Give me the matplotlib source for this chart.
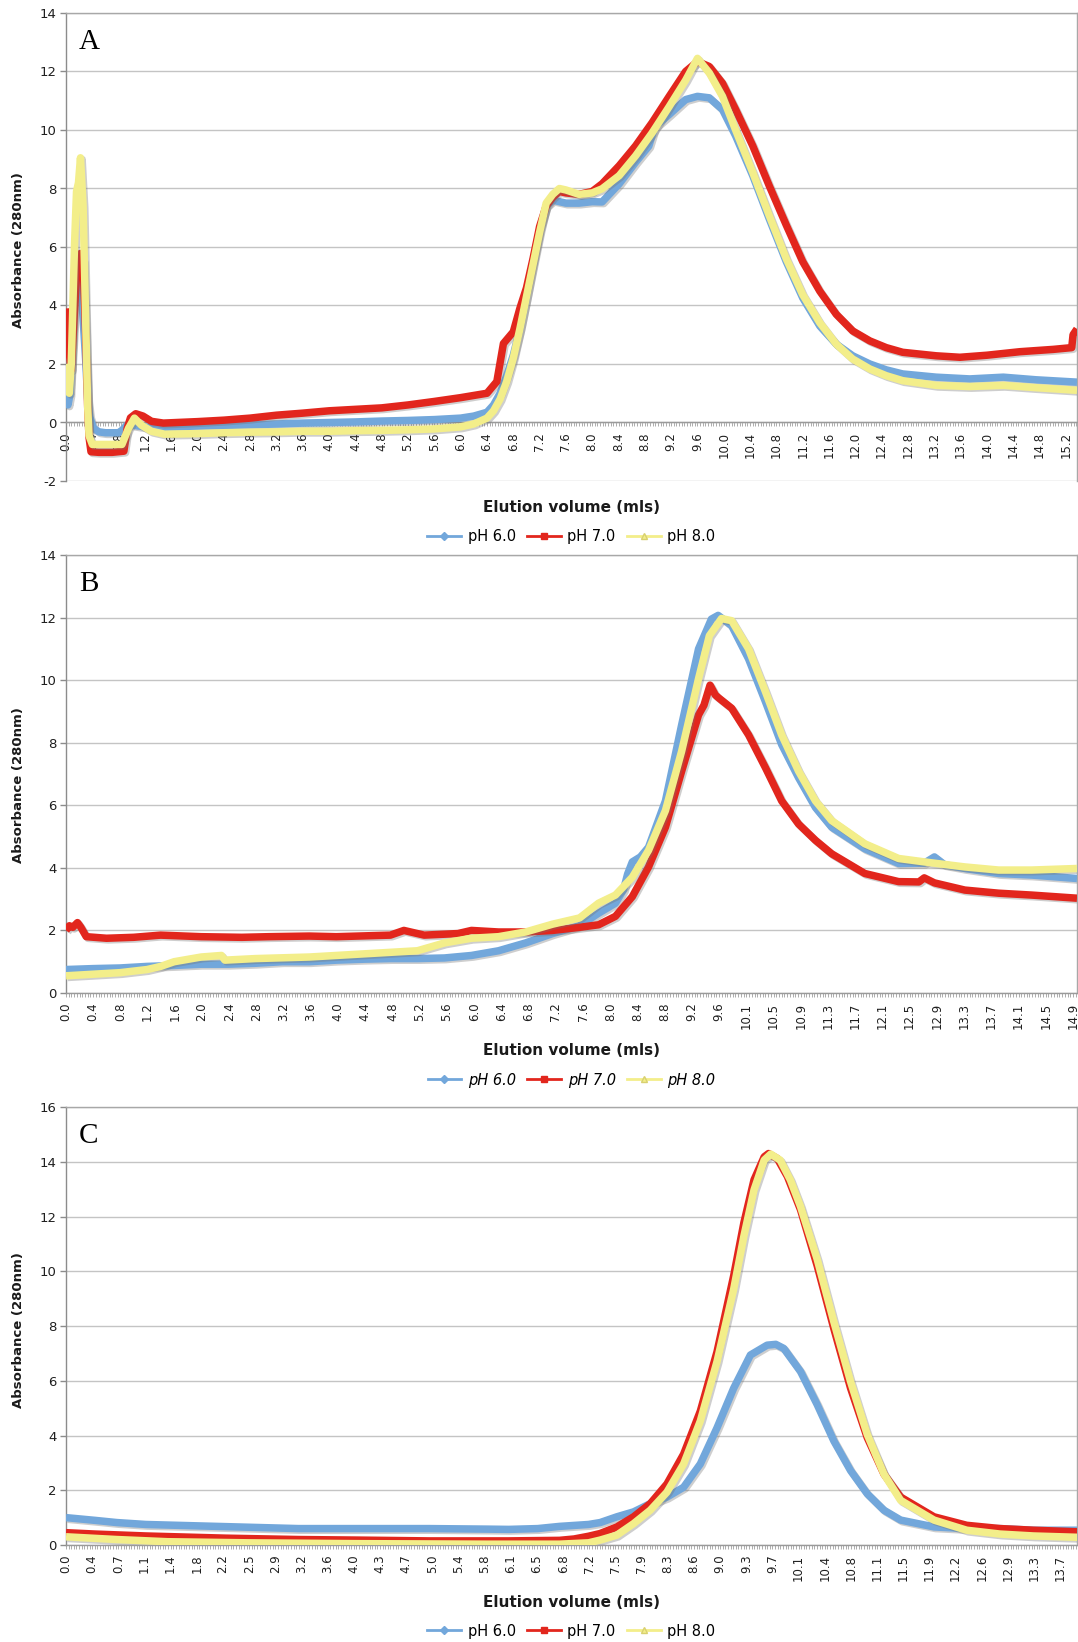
import numpy as np
import matplotlib.pyplot as plt
import matplotlib.patheffects as pe
from matplotlib.lines import Line2D
from matplotlib.ticker import FixedLocator, MultipleLocator

plt.rcParams['axes.unicode_minus'] = False

W, H = 1078, 1642  # output size in pixels (dpi 100)

BLUE = '#72A7DB'
RED = '#E2261D'
YELLOW = '#F3EE8A'
LEGEND_NAMES = ['pH 6.0', 'pH 7.0', 'pH 8.0']

# ---------------- panel A ----------------
A_TICKS = ['0.0', '0.4', '0.8', '1.2', '1.6', '2.0', '2.4', '2.8', '3.2', '3.6',
           '4.0', '4.4', '4.8', '5.2', '5.6', '6.0', '6.4', '6.8', '7.2', '7.6',
           '8.0', '8.4', '8.8', '9.2', '9.6', '10.0', '10.4', '10.8', '11.2', '11.6',
           '12.0', '12.4', '12.8', '13.2', '13.6', '14.0', '14.4', '14.8', '15.2']

A_BLUE_X = [0.00, 0.03, 0.06, 0.10, 0.13, 0.16, 0.21, 0.24, 0.30, 0.33,
            0.36, 0.42, 0.50, 0.60, 0.70, 0.80, 0.86, 0.92, 1.00, 1.10,
            1.30, 1.60, 2.00, 2.40, 2.80, 3.20, 3.60, 4.00, 4.40, 4.80,
            5.20, 5.60, 6.00, 6.20, 6.40, 6.50, 6.60, 6.70, 6.80, 6.90,
            7.00, 7.10, 7.20, 7.30, 7.40, 7.50, 7.60, 7.80, 8.00, 8.15,
            8.41, 8.66, 8.86, 8.95, 9.17, 9.42, 9.60, 9.78, 9.98, 10.18,
            10.44, 10.69, 10.95, 11.20, 11.46, 11.71, 11.96, 12.22, 12.47, 12.72,
            13.23, 13.74, 14.25, 14.75, 15.37]
A_BLUE_Y = [1.00, 0.60, 0.95, 3.10, 4.20, 4.35, 4.77, 4.28, 2.10, 0.76,
            0.20, -0.20, -0.32, -0.35, -0.35, -0.35, -0.25, -0.10, -0.08, -0.12,
            -0.18, -0.15, -0.12, -0.10, -0.08, -0.05, -0.02, 0.00, 0.02, 0.05,
            0.07, 0.10, 0.15, 0.22, 0.35, 0.60, 1.00, 1.60, 2.30, 3.20,
            4.30, 5.50, 6.60, 7.40, 7.60, 7.55, 7.50, 7.50, 7.55, 7.54,
            8.16, 8.90, 9.45, 10.10, 10.53, 11.04, 11.15, 11.10, 10.70, 9.80,
            8.44, 6.97, 5.50, 4.26, 3.30, 2.68, 2.28, 2.00, 1.80, 1.66,
            1.55, 1.49, 1.55, 1.46, 1.38]

A_RED_X = [0.00, 0.05, 0.08, 0.13, 0.16, 0.21, 0.22, 0.26, 0.30, 0.33,
           0.35, 0.38, 0.50, 0.70, 0.88, 0.93, 0.98, 1.06, 1.17, 1.30,
           1.48, 2.00, 2.40, 2.80, 3.20, 3.60, 4.00, 4.40, 4.80, 5.20,
           5.60, 6.00, 6.40, 6.55, 6.65, 6.80, 6.90, 7.00, 7.10, 7.20,
           7.30, 7.40, 7.50, 7.60, 7.80, 8.00, 8.15, 8.41, 8.66, 8.91,
           9.17, 9.42, 9.60, 9.78, 9.98, 10.18, 10.44, 10.69, 10.95, 11.20,
           11.46, 11.71, 11.96, 12.22, 12.47, 12.72, 13.23, 13.59, 14.00, 14.50,
           15.01, 15.29, 15.31, 15.37]
A_RED_Y = [3.90, 2.38, 1.80, 3.88, 5.04, 5.04, 5.78, 5.53, 3.00, 0.52,
           -0.50, -1.00, -1.02, -1.02, -0.98, -0.20, 0.16, 0.30, 0.22, 0.04,
           -0.02, 0.03, 0.08, 0.15, 0.25, 0.32, 0.40, 0.45, 0.50, 0.60,
           0.72, 0.85, 1.00, 1.40, 2.70, 3.10, 3.90, 4.60, 5.60, 6.70,
           7.40, 7.70, 7.90, 7.85, 7.80, 7.90, 8.16, 8.78, 9.46, 10.25,
           11.15, 12.00, 12.34, 12.17, 11.60, 10.70, 9.46, 8.10, 6.75, 5.50,
           4.49, 3.70, 3.13, 2.79, 2.56, 2.40, 2.28, 2.23, 2.30, 2.42,
           2.50, 2.56, 3.00, 3.20]

A_YEL_X = [0.00, 0.05, 0.08, 0.13, 0.16, 0.19, 0.22, 0.26, 0.30, 0.33,
           0.35, 0.40, 0.60, 0.85, 0.95, 1.04, 1.15, 1.30, 1.50, 2.00,
           2.40, 2.80, 3.20, 3.60, 4.00, 4.40, 4.80, 5.20, 5.60, 6.00,
           6.20, 6.40, 6.50, 6.60, 6.70, 6.80, 6.90, 7.00, 7.10, 7.20,
           7.30, 7.40, 7.50, 7.60, 7.80, 8.00, 8.15, 8.41, 8.66, 8.91,
           9.17, 9.42, 9.60, 9.78, 9.98, 10.18, 10.44, 10.69, 10.95, 11.20,
           11.46, 11.71, 11.96, 12.22, 12.47, 12.72, 13.23, 13.74, 14.25, 14.75,
           15.37]
A_YEL_Y = [2.00, 1.00, 2.00, 6.10, 7.90, 8.20, 9.05, 7.40, 3.40, 0.50,
           -0.45, -0.75, -0.75, -0.75, -0.20, 0.15, -0.10, -0.30, -0.40, -0.38,
           -0.35, -0.33, -0.32, -0.30, -0.30, -0.28, -0.27, -0.25, -0.22, -0.15,
           -0.05, 0.15, 0.40, 0.80, 1.40, 2.20, 3.20, 4.30, 5.40, 6.50,
           7.50, 7.80, 8.00, 7.95, 7.80, 7.85, 7.99, 8.44, 9.12, 9.90,
           10.80, 11.70, 12.45, 11.95, 11.15, 10.00, 8.55, 7.08, 5.60, 4.37,
           3.41, 2.68, 2.17, 1.83, 1.60, 1.43, 1.27, 1.23, 1.27, 1.19,
           1.10]

# ---------------- panel B ----------------
B_TICKS = ['0.0', '0.4', '0.8', '1.2', '1.6', '2.0', '2.4', '2.8', '3.2', '3.6',
           '4.0', '4.4', '4.8', '5.2', '5.6', '6.0', '6.4', '6.8', '7.2', '7.6',
           '8.0', '8.4', '8.8', '9.2', '9.6', '10.1', '10.5', '10.9', '11.3', '11.7',
           '12.1', '12.5', '12.9', '13.3', '13.7', '14.1', '14.5', '14.9']

B_BLUE_X = [0.00, 0.40, 0.80, 1.20, 1.60, 2.00, 2.40, 2.80, 3.20, 3.60,
            4.00, 4.40, 4.80, 5.20, 5.60, 6.00, 6.40, 6.80, 7.20, 7.60,
            7.88, 8.13, 8.25, 8.31, 8.38, 8.50, 8.62, 8.87, 9.11, 9.36,
            9.55, 9.65, 9.85, 10.10, 10.35, 10.59, 10.84, 11.09, 11.33, 11.82,
            12.32, 12.70, 12.85, 13.00, 13.30, 13.80, 14.29, 14.96]
B_BLUE_Y = [0.75, 0.78, 0.80, 0.85, 0.88, 0.92, 0.92, 0.95, 1.00, 1.00,
            1.05, 1.08, 1.10, 1.10, 1.12, 1.20, 1.35, 1.60, 1.90, 2.15,
            2.55, 2.87, 3.30, 3.80, 4.19, 4.35, 4.66, 6.14, 8.57, 11.00,
            11.95, 12.07, 11.74, 10.68, 9.31, 7.94, 6.88, 5.93, 5.30, 4.61,
            4.14, 4.15, 4.35, 4.10, 3.98, 3.82, 3.77, 3.66]

B_RED_X = [0.00, 0.05, 0.10, 0.17, 0.22, 0.30, 0.60, 1.00, 1.40, 2.00,
           2.60, 3.00, 3.60, 4.00, 4.80, 5.00, 5.10, 5.30, 5.80, 6.00,
           6.40, 6.80, 7.20, 7.60, 7.88, 8.13, 8.38, 8.62, 8.87, 9.11,
           9.36, 9.44, 9.53, 9.61, 9.67, 9.85, 10.10, 10.35, 10.59, 10.84,
           11.09, 11.33, 11.82, 12.32, 12.62, 12.70, 12.85, 13.30, 13.80, 14.29,
           14.96]
B_RED_Y = [2.00, 2.15, 2.10, 2.25, 2.10, 1.80, 1.75, 1.78, 1.85, 1.80,
           1.78, 1.80, 1.82, 1.80, 1.85, 2.00, 1.95, 1.85, 1.90, 2.00,
           1.95, 1.95, 2.00, 2.10, 2.18, 2.45, 3.08, 4.03, 5.30, 7.09,
           8.89, 9.20, 9.84, 9.52, 9.41, 9.10, 8.25, 7.20, 6.14, 5.40,
           4.88, 4.45, 3.82, 3.56, 3.55, 3.68, 3.52, 3.29, 3.19, 3.13,
           3.03]

B_YEL_X = [0.00, 0.40, 0.80, 1.20, 1.40, 1.60, 2.00, 2.30, 2.35, 2.80,
           3.60, 4.00, 4.80, 5.20, 5.60, 6.00, 6.40, 6.80, 7.20, 7.60,
           7.88, 8.13, 8.38, 8.62, 8.87, 9.11, 9.36, 9.52, 9.70, 9.85,
           10.10, 10.35, 10.59, 10.84, 11.09, 11.33, 11.82, 12.32, 12.81, 13.30,
           13.80, 14.29, 14.96]
B_YEL_Y = [0.55, 0.60, 0.65, 0.75, 0.85, 1.00, 1.15, 1.20, 1.05, 1.10,
           1.15, 1.20, 1.30, 1.35, 1.60, 1.75, 1.80, 1.95, 2.20, 2.40,
           2.87, 3.13, 3.70, 4.56, 5.83, 7.73, 10.05, 11.42, 11.97, 11.90,
           11.00, 9.63, 8.25, 7.09, 6.14, 5.51, 4.77, 4.30, 4.16, 4.03,
           3.93, 3.93, 3.98]

# ---------------- panel C ----------------
C_TICKS = ['0.0', '0.4', '0.7', '1.1', '1.4', '1.8', '2.2', '2.5', '2.9', '3.2',
           '3.6', '4.0', '4.3', '4.7', '5.0', '5.4', '5.8', '6.1', '6.5', '6.8',
           '7.2', '7.5', '7.9', '8.3', '8.6', '9.0', '9.3', '9.7', '10.1', '10.4',
           '10.8', '11.1', '11.5', '11.9', '12.2', '12.6', '12.9', '13.3', '13.7']

C_BLUE_X = [0.00, 0.40, 0.70, 1.10, 1.80, 2.50, 3.20, 4.00, 5.00, 5.80,
            6.10, 6.50, 6.80, 7.20, 7.36, 7.59, 7.82, 8.05, 8.28, 8.51,
            8.74, 8.97, 9.20, 9.43, 9.66, 9.78, 9.89, 10.12, 10.35, 10.58,
            10.81, 11.04, 11.27, 11.50, 11.96, 12.41, 12.87, 13.33, 13.95]
C_BLUE_Y = [1.00, 0.90, 0.82, 0.75, 0.70, 0.65, 0.60, 0.60, 0.60, 0.58,
            0.57, 0.60, 0.68, 0.75, 0.82, 1.03, 1.21, 1.51, 1.75, 2.11,
            2.96, 4.28, 5.73, 6.94, 7.30, 7.33, 7.18, 6.34, 5.13, 3.80,
            2.72, 1.87, 1.27, 0.91, 0.66, 0.60, 0.60, 0.54, 0.54]

C_RED_X = [0.00, 0.40, 1.10, 2.20, 3.20, 4.00, 5.00, 6.10, 6.80, 7.00,
           7.20, 7.36, 7.59, 7.82, 8.05, 8.28, 8.51, 8.74, 8.97, 9.20,
           9.34, 9.48, 9.62, 9.68, 9.80, 9.94, 10.12, 10.35, 10.58, 10.81,
           11.04, 11.27, 11.50, 11.96, 12.41, 12.87, 13.33, 13.95]
C_RED_Y = [0.45, 0.40, 0.33, 0.25, 0.20, 0.18, 0.15, 0.15, 0.17, 0.22,
           0.32, 0.42, 0.66, 1.03, 1.51, 2.23, 3.32, 4.89, 7.06, 9.84,
           11.77, 13.34, 14.18, 14.30, 14.12, 13.46, 12.25, 10.20, 7.90, 5.73,
           3.92, 2.59, 1.75, 1.03, 0.72, 0.60, 0.54, 0.48]

C_YEL_X = [0.00, 0.70, 1.40, 2.50, 4.00, 5.80, 6.80, 7.20, 7.36, 7.59,
           7.82, 8.05, 8.28, 8.51, 8.74, 8.97, 9.20, 9.34, 9.48, 9.62,
           9.71, 9.84, 9.98, 10.12, 10.35, 10.58, 10.81, 11.04, 11.27, 11.50,
           11.96, 12.41, 12.87, 13.33, 13.95]
C_YEL_Y = [0.30, 0.20, 0.12, 0.08, 0.05, 0.03, 0.03, 0.08, 0.18, 0.36,
           0.78, 1.27, 1.93, 2.96, 4.53, 6.70, 9.35, 11.28, 12.97, 14.06,
           14.28, 14.06, 13.34, 12.37, 10.44, 8.15, 5.97, 4.04, 2.59, 1.63,
           0.91, 0.54, 0.40, 0.33, 0.28]


fig = plt.figure(figsize=(W / 100, H / 100), dpi=100)

shadow = [pe.SimpleLineShadow(offset=(1.2, -1.2), shadow_color='0.45', alpha=0.35), pe.Normal()]


def draw_panel(top, bottom, ymin, ymax, ticks, step, xmax, series, letter,
               title_y, legend_y, ylabel_y, italic=False):
    ax = fig.add_axes([66 / W, 1 - bottom / H, (1077 - 66) / W, (bottom - top) / H])
    hpx = bottom - top

    # moving the spine resets the ticks, so do it before styling them
    if ymin < 0:
        ax.spines['bottom'].set_position(('data', 0))

    for x, y, c in series:
        ax.plot(x, y, color=c, lw=5.4, solid_joinstyle='round', solid_capstyle='butt',
                path_effects=shadow)

    ax.set_xlim(0, xmax)
    ax.set_ylim(ymin, ymax)
    ax.set_axisbelow(True)

    # y axis
    ax.yaxis.set_major_locator(MultipleLocator(2))
    ax.yaxis.grid(True, color='#C4C4C4', lw=1.0)
    ax.tick_params(axis='y', direction='out', length=4, width=1, color='#8C8C8C',
                   labelsize=9.5, labelcolor='#1F1F1F', pad=3)

    # category axis: a label every few points, a tick at every point
    pos = np.arange(len(ticks)) * step
    ax.xaxis.set_major_locator(FixedLocator(pos))
    ax.set_xticklabels(ticks, rotation=90, fontsize=8.5, color='#1F1F1F')
    ax.xaxis.set_minor_locator(MultipleLocator(step / 10))
    ax.tick_params(axis='x', which='both', direction='out', length=3, width=0.6,
                   color='#A0A0A0', pad=4)

    for s in ax.spines.values():
        s.set_color('#A8A8A8')
        s.set_linewidth(1.0)
        s.set_zorder(0.6)
    ax.spines['left'].set_color('#8C8C8C')
    ax.spines['bottom'].set_color('#9A9A9A')

    ax.set_xlabel('Elution volume (mls)', fontsize=11, fontweight='bold', color='#1A1A1A')
    ax.xaxis.set_label_coords(0.5, (bottom - title_y) / hpx)
    ax.xaxis.label.set_va('center')

    ax.set_ylabel('Absorbance (280nm)', fontsize=9.5, fontweight='bold', color='#1A1A1A')
    ax.yaxis.set_label_coords(-47 / 1011, (bottom - ylabel_y) / hpx)
    ax.yaxis.label.set(va='center', ha='center', rotation_mode='default')

    ax.text(13 / 1011, 1 - 29 / hpx, letter, transform=ax.transAxes, fontsize=21,
            family='Liberation Serif', va='center', ha='left')

    handles = [Line2D([], [], color=BLUE, lw=2, marker='D', ms=4),
               Line2D([], [], color=RED, lw=2, marker='s', ms=4.5),
               Line2D([], [], color=YELLOW, lw=2, marker='^', ms=5, mec='#D8D070')]
    ax.legend(handles, LEGEND_NAMES, loc='center', bbox_to_anchor=(0.5, (bottom - legend_y) / hpx),
              ncol=3, frameon=False, handlelength=2.3, handletextpad=0.45, columnspacing=0.8,
              prop={'size': 10.5, 'style': 'italic' if italic else 'normal'})
    return ax


draw_panel(13, 481, -2, 14, A_TICKS, 0.4, 15.37,
           [(A_BLUE_X, A_BLUE_Y, BLUE), (A_RED_X, A_RED_Y, RED), (A_YEL_X, A_YEL_Y, YELLOW)],
           'A', 507, 537, 250)
draw_panel(555, 993, 0, 14, B_TICKS, 14.9 / 37, 14.96,
           [(B_BLUE_X, B_BLUE_Y, BLUE), (B_RED_X, B_RED_Y, RED), (B_YEL_X, B_YEL_Y, YELLOW)],
           'B', 1050, 1080, 785, italic=True)
draw_panel(1107, 1545, 0, 16, C_TICKS, 13.7 / 38, 13.93,
           [(C_BLUE_X, C_BLUE_Y, BLUE), (C_RED_X, C_RED_Y, RED), (C_YEL_X, C_YEL_Y, YELLOW)],
           'C', 1602, 1631, 1330)

fig.savefig('out.png', dpi=100)
